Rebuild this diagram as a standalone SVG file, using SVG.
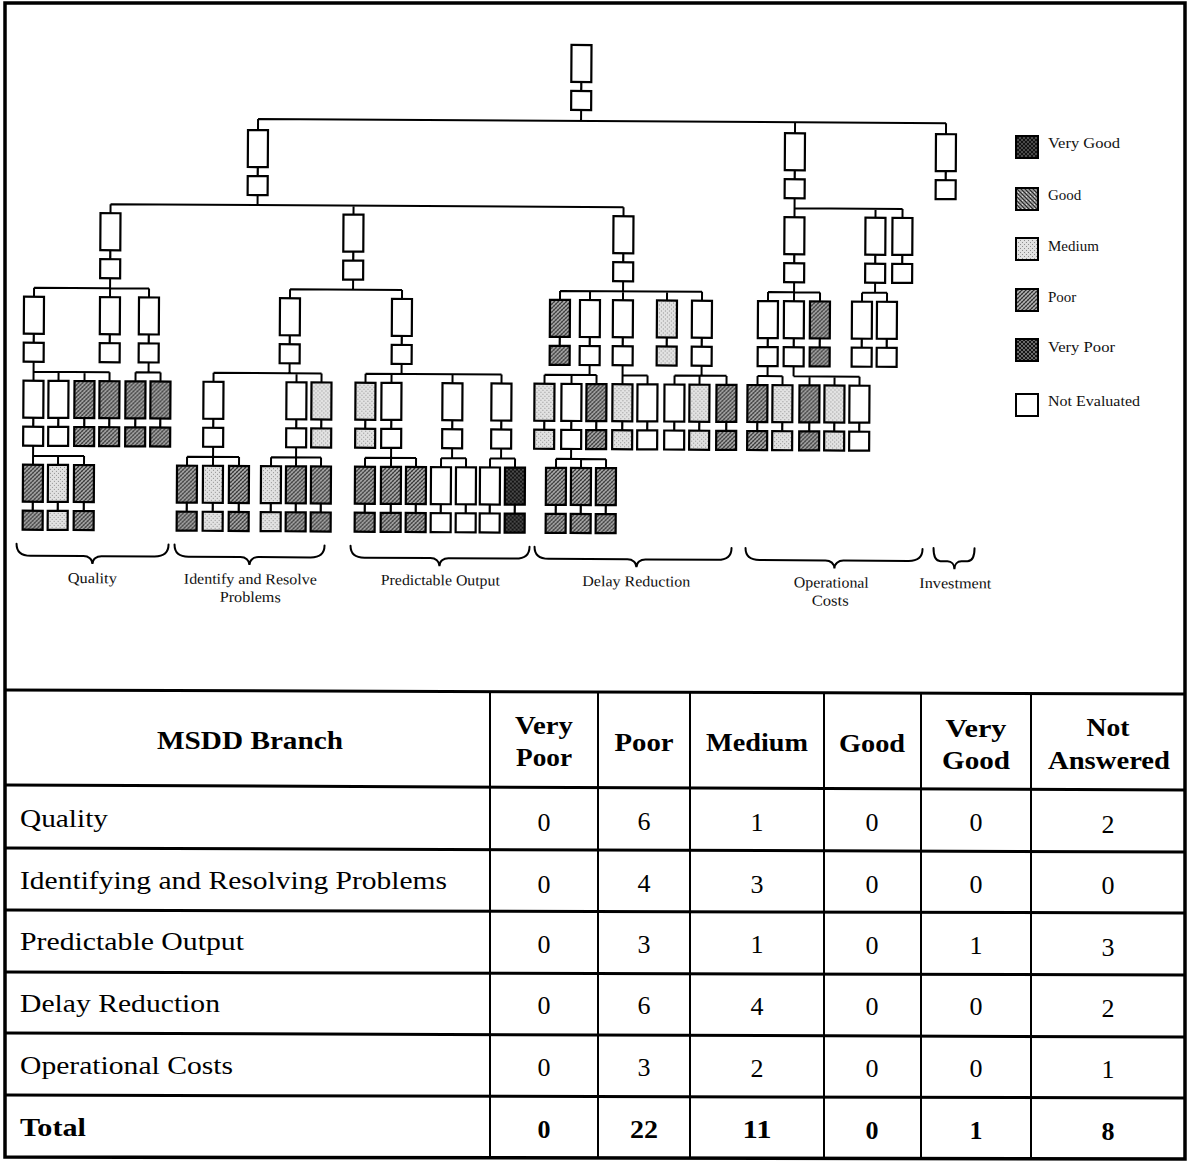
<svg xmlns="http://www.w3.org/2000/svg" xmlns:xlink="http://www.w3.org/1999/xlink" width="1187" height="1161" viewBox="0 0 1187 1161">
  <defs>
    <!-- rating fills -->
    <pattern id="pVGood" width="4" height="4" patternUnits="userSpaceOnUse">
      <rect width="4" height="4" fill="#4a4a4a"/>
      <path d="M-1,1 l2,-2 M0,4 l4,-4 M3,5 l2,-2 M-1,3 l2,2 M0,0 l4,4 M3,-1 l2,2" stroke="#0c0c0c" stroke-width="0.9"/>
    </pattern>
    <pattern id="pGood" width="4" height="4" patternUnits="userSpaceOnUse">
      <rect width="4" height="4" fill="#a0a0a0"/>
      <path d="M-1,3 l2,2 M0,0 l4,4 M3,-1 l2,2" stroke="#262626" stroke-width="1.2"/>
      <rect x="2" y="0" width="1" height="1" fill="#e0e0e0"/>
    </pattern>
    <pattern id="pMedium" width="4" height="4" patternUnits="userSpaceOnUse">
      <rect width="4" height="4" fill="#e2e2e2"/>
      <rect x="0" y="0" width="1" height="1" fill="#8e8e8e"/>
      <rect x="2" y="2" width="1" height="1" fill="#8e8e8e"/>
    </pattern>
    <pattern id="pPoor" width="4" height="4" patternUnits="userSpaceOnUse">
      <rect width="4" height="4" fill="#b4b4b4"/>
      <path d="M-1,1 l2,-2 M0,4 l4,-4 M3,5 l2,-2" stroke="#2a2a2a" stroke-width="1.1"/>
      <path d="M-1,3 l2,2 M0,0 l4,4 M3,-1 l2,2" stroke="#555" stroke-width="0.6"/>
    </pattern>
    <pattern id="pVPoor" width="4" height="4" patternUnits="userSpaceOnUse">
      <rect width="4" height="4" fill="#6a6a6a"/>
      <path d="M-1,1 l2,-2 M0,4 l4,-4 M3,5 l2,-2 M-1,3 l2,2 M0,0 l4,4 M3,-1 l2,2" stroke="#141414" stroke-width="1"/>
    </pattern>
    <!-- one tree node: requirement box over its design-parameter box -->
    <g id="nd" stroke="#000" stroke-width="2.2">
      <rect x="-10" y="0" width="20" height="37"/>
      <line x1="0" y1="37" x2="0" y2="46"/>
      <rect x="-10" y="46" width="20" height="19"/>
    </g>
  </defs>
  <style>
    .ne { fill: #fff; }
    .poor { fill: url(#pPoor); }
    .med { fill: url(#pMedium); }
    .vgood { fill: url(#pVGood); }
    .good { fill: url(#pGood); }
    .vpoor { fill: url(#pVPoor); }
    .conn { fill: none; stroke: #000; stroke-width: 2; }
    .brace { fill: none; stroke: #000; stroke-width: 2; stroke-linecap: round; }
    .lbl { font-family: "Liberation Serif", "Times New Roman", serif; font-size: 15px; fill: #111; text-anchor: middle; }
    .leg { font-family: "Liberation Serif", "Times New Roman", serif; font-size: 15px; fill: #111; }
    .lbox { stroke: #000; stroke-width: 2; }
    .tl { stroke: #000; stroke-width: 3; fill: none; }
    .tv { stroke: #000; stroke-width: 2; }
    .th { font-family: "Liberation Serif", "Times New Roman", serif; font-size: 26px; font-weight: bold; fill: #000; text-anchor: middle; }
    .tr { font-family: "Liberation Serif", "Times New Roman", serif; font-size: 26px; fill: #000; }
    .num { font-family: "Liberation Serif", "Times New Roman", serif; font-size: 26px; fill: #000; text-anchor: middle; }
    .bold { font-weight: bold; }
  </style>

  <rect width="1187" height="1161" fill="#fff"/>

  <!-- outer frame -->
  <path d="M5,3 H1185 V1159 L5,1157 Z" fill="none" stroke="#000" stroke-width="3.5"/>

  <!-- MSDD tree, slightly rotated as on the printed page -->
  <g id="tree" transform="rotate(0.34 580 300)">
    <g id="connectors" class="conn">
      <path d="M580,110V121 M257,121H945 M257,121V132 M794,121V132 M945,121V132"/>
      <path d="M257,197V207 M110,207H623 M110,207V216 M353,207V216 M623,207V216"/>
      <path d="M794,197V216 M794,207H902 M875,207V216 M902,207V216"/>
      <path d="M110,281V300 M34,291H149 M34,291V300 M149,291V300"/>
      <path d="M353,281V291 M290,291H402 M290,291V300 M402,291V300"/>
      <path d="M623,281V300 M560,291H702 M560,291V300 M590,291V300 M667,291V300 M702,291V300"/>
      <path d="M794,281V300 M768,291H820 M768,291V300 M820,291V300"/>
      <path d="M875,281V291 M862,291H887 M862,291V300 M887,291V300"/>
      <path d="M34,365V384 M34,375H110 M59,375V384 M85,375V384 M110,375V384"/>
      <path d="M149,365V375 M136,375H161 M136,375V384 M161,375V384"/>
      <path d="M290,365V375 M214,375H322 M214,375V384 M297,375V384 M322,375V384"/>
      <path d="M402,365V375 M366,375H502 M366,375V384 M392,375V384 M453,375V384 M502,375V384"/>
      <path d="M590,365V375 M545,375H597 M545,375V384 M572,375V384 M597,375V384"/>
      <path d="M623,365V384 M623,375H648 M648,375V384"/>
      <path d="M702,365V375 M675,375H727 M675,375V384 M700,375V384 M727,375V384"/>
      <path d="M768,365V375 M758,375H783 M758,375V384 M783,375V384"/>
      <path d="M794,365V375 M794,375H860 M810,375V384 M835,375V384 M860,375V384"/>
      <path d="M34,449V468 M34,459H85 M59,459V468 M85,459V468"/>
      <path d="M214,449V468 M188,459H240 M188,459V468 M240,459V468"/>
      <path d="M297,449V468 M272,459H322 M272,459V468 M322,459V468"/>
      <path d="M392,449V468 M366,459H417 M366,459V468 M417,459V468"/>
      <path d="M453,449V459 M442,459H467 M442,459V468 M467,459V468"/>
      <path d="M502,449V459 M491,459H516 M491,459V468 M516,459V468"/>
      <path d="M572,449V459 M557,459H607 M557,459V468 M582,459V468 M607,459V468"/>
    </g>

    <!-- level 1 -->
    <g id="n-root" class="ne"><use xlink:href="#nd" x="580" y="45"/></g>
    <!-- level 2 -->
    <g id="n-a" class="ne"><use xlink:href="#nd" x="257" y="132"/></g>
    <g id="n-oc" class="ne"><use xlink:href="#nd" x="794" y="132"/></g>
    <g id="n-inv" class="ne"><use xlink:href="#nd" x="945" y="132"/></g>
    <!-- level 3 -->
    <g id="n-q" class="ne"><use xlink:href="#nd" x="110" y="216"/></g>
    <g id="n-ip" class="ne"><use xlink:href="#nd" x="353" y="216"/></g>
    <g id="n-d" class="ne"><use xlink:href="#nd" x="623" y="216"/></g>
    <g id="n-o" class="ne"><use xlink:href="#nd" x="794" y="216"/></g>
    <g id="n-o2" class="ne"><use xlink:href="#nd" x="875" y="216"/></g>
    <g id="n-o3" class="ne"><use xlink:href="#nd" x="902" y="216"/></g>
    <!-- level 4 -->
    <g id="n-q1" class="ne"><use xlink:href="#nd" x="34" y="300"/></g>
    <g id="n-q2" class="ne"><use xlink:href="#nd" x="110" y="300"/></g>
    <g id="n-q3" class="ne"><use xlink:href="#nd" x="149" y="300"/></g>
    <g id="n-i" class="ne"><use xlink:href="#nd" x="290" y="300"/></g>
    <g id="n-p" class="ne"><use xlink:href="#nd" x="402" y="300"/></g>
    <g id="n-d1" class="poor"><use xlink:href="#nd" x="560" y="300"/></g>
    <g id="n-d2" class="ne"><use xlink:href="#nd" x="590" y="300"/></g>
    <g id="n-d3" class="ne"><use xlink:href="#nd" x="623" y="300"/></g>
    <g id="n-d4" class="med"><use xlink:href="#nd" x="667" y="300"/></g>
    <g id="n-d5" class="ne"><use xlink:href="#nd" x="702" y="300"/></g>
    <g id="n-o1" class="ne"><use xlink:href="#nd" x="768" y="300"/></g>
    <g id="n-o2b" class="ne"><use xlink:href="#nd" x="794" y="300"/></g>
    <g id="n-o3b" class="poor"><use xlink:href="#nd" x="820" y="300"/></g>
    <g id="n-o4" class="ne"><use xlink:href="#nd" x="862" y="300"/></g>
    <g id="n-o5" class="ne"><use xlink:href="#nd" x="887" y="300"/></g>
    <!-- level 5 -->
    <g id="n-q11" class="ne"><use xlink:href="#nd" x="34" y="384"/></g>
    <g id="n-q12" class="ne"><use xlink:href="#nd" x="59" y="384"/></g>
    <g id="n-q13" class="poor"><use xlink:href="#nd" x="85" y="384"/></g>
    <g id="n-q14" class="poor"><use xlink:href="#nd" x="110" y="384"/></g>
    <g id="n-q31" class="poor"><use xlink:href="#nd" x="136" y="384"/></g>
    <g id="n-q32" class="poor"><use xlink:href="#nd" x="161" y="384"/></g>
    <g id="n-i1" class="ne"><use xlink:href="#nd" x="214" y="384"/></g>
    <g id="n-i2" class="ne"><use xlink:href="#nd" x="297" y="384"/></g>
    <g id="n-i3" class="med"><use xlink:href="#nd" x="322" y="384"/></g>
    <g id="n-p1" class="med"><use xlink:href="#nd" x="366" y="384"/></g>
    <g id="n-p2" class="ne"><use xlink:href="#nd" x="392" y="384"/></g>
    <g id="n-p3" class="ne"><use xlink:href="#nd" x="453" y="384"/></g>
    <g id="n-p4" class="ne"><use xlink:href="#nd" x="502" y="384"/></g>
    <g id="n-d21" class="med"><use xlink:href="#nd" x="545" y="384"/></g>
    <g id="n-d22" class="ne"><use xlink:href="#nd" x="572" y="384"/></g>
    <g id="n-d23" class="poor"><use xlink:href="#nd" x="597" y="384"/></g>
    <g id="n-d31" class="med"><use xlink:href="#nd" x="623" y="384"/></g>
    <g id="n-d32" class="ne"><use xlink:href="#nd" x="648" y="384"/></g>
    <g id="n-d51" class="ne"><use xlink:href="#nd" x="675" y="384"/></g>
    <g id="n-d52" class="med"><use xlink:href="#nd" x="700" y="384"/></g>
    <g id="n-d53" class="poor"><use xlink:href="#nd" x="727" y="384"/></g>
    <g id="n-o11" class="poor"><use xlink:href="#nd" x="758" y="384"/></g>
    <g id="n-o12" class="med"><use xlink:href="#nd" x="783" y="384"/></g>
    <g id="n-o21" class="poor"><use xlink:href="#nd" x="810" y="384"/></g>
    <g id="n-o22" class="med"><use xlink:href="#nd" x="835" y="384"/></g>
    <g id="n-o23" class="ne"><use xlink:href="#nd" x="860" y="384"/></g>
    <!-- level 6 -->
    <g id="n-q111" class="poor"><use xlink:href="#nd" x="34" y="468"/></g>
    <g id="n-q112" class="med"><use xlink:href="#nd" x="59" y="468"/></g>
    <g id="n-q113" class="poor"><use xlink:href="#nd" x="85" y="468"/></g>
    <g id="n-i11" class="poor"><use xlink:href="#nd" x="188" y="468"/></g>
    <g id="n-i12" class="med"><use xlink:href="#nd" x="214" y="468"/></g>
    <g id="n-i13" class="poor"><use xlink:href="#nd" x="240" y="468"/></g>
    <g id="n-i21" class="med"><use xlink:href="#nd" x="272" y="468"/></g>
    <g id="n-i22" class="poor"><use xlink:href="#nd" x="297" y="468"/></g>
    <g id="n-i23" class="poor"><use xlink:href="#nd" x="322" y="468"/></g>
    <g id="n-p21" class="poor"><use xlink:href="#nd" x="366" y="468"/></g>
    <g id="n-p22" class="poor"><use xlink:href="#nd" x="392" y="468"/></g>
    <g id="n-p23" class="poor"><use xlink:href="#nd" x="417" y="468"/></g>
    <g id="n-p31" class="ne"><use xlink:href="#nd" x="442" y="468"/></g>
    <g id="n-p32" class="ne"><use xlink:href="#nd" x="467" y="468"/></g>
    <g id="n-p41" class="ne"><use xlink:href="#nd" x="491" y="468"/></g>
    <g id="n-p42" class="vgood"><use xlink:href="#nd" x="516" y="468"/></g>
    <g id="n-d221" class="poor"><use xlink:href="#nd" x="557" y="468"/></g>
    <g id="n-d222" class="poor"><use xlink:href="#nd" x="582" y="468"/></g>
    <g id="n-d223" class="poor"><use xlink:href="#nd" x="607" y="468"/></g>

    <!-- branch braces and names -->
    <g id="braces" class="brace">
      <path d="M18,547 C18,555 23,559 32,559 H85 C90,559 94,562 94,567 C94,562 98,559 103,559 H156 C165,559 170,555 170,547"/>
      <path d="M176,547 C176,555 181,559 190,559 H242 C247,559 251,562 251,567 C251,562 255,559 260,559 H312 C321,559 326,555 326,547"/>
      <path d="M352,547 C352,555 357,559 366,559 H432 C437,559 441,562 441,567 C441,562 445,559 450,559 H517 C526,559 531,555 531,547"/>
      <path d="M536,547 C536,555 541,559 550,559 H629 C634,559 638,562 638,567 C638,562 642,559 647,559 H719 C728,559 733,555 733,547"/>
      <path d="M747,547 C747,555 752,559 761,559 H827 C832,559 836,562 836,567 C836,562 840,559 845,559 H910 C919,559 924,555 924,547"/>
      <path d="M935,546 C935,554 937,559 942,559 H949 C953,559 956,562 956,567 C956,562 959,559 963,559 H969 C974,559 976,554 976,546"/>
    </g>
    <g id="branch-names" class="lbl">
      <text x="94" y="586" textLength="49" lengthAdjust="spacingAndGlyphs">Quality</text>
      <text x="252" y="586" textLength="133" lengthAdjust="spacingAndGlyphs">Identify and Resolve</text>
      <text x="252" y="604" textLength="61" lengthAdjust="spacingAndGlyphs">Problems</text>
      <text x="442" y="586" textLength="119" lengthAdjust="spacingAndGlyphs">Predictable Output</text>
      <text x="638" y="586" textLength="108" lengthAdjust="spacingAndGlyphs">Delay Reduction</text>
      <text x="833" y="586" textLength="75" lengthAdjust="spacingAndGlyphs">Operational</text>
      <text x="832" y="604" textLength="37" lengthAdjust="spacingAndGlyphs">Costs</text>
      <text x="957" y="586" textLength="72" lengthAdjust="spacingAndGlyphs">Investment</text>
    </g>
  </g>

  <!-- legend -->
  <g id="legend">
    <rect class="lbox vgood" x="1016" y="136" width="22" height="22"/>
    <text class="leg" x="1048" y="148" textLength="72" lengthAdjust="spacingAndGlyphs">Very Good</text>
    <rect class="lbox good" x="1016" y="188" width="22" height="22"/>
    <text class="leg" x="1048" y="200">Good</text>
    <rect class="lbox med" x="1016" y="238" width="22" height="22"/>
    <text class="leg" x="1048" y="251">Medium</text>
    <rect class="lbox poor" x="1016" y="289" width="22" height="22"/>
    <text class="leg" x="1048" y="302">Poor</text>
    <rect class="lbox vpoor" x="1016" y="339" width="22" height="22"/>
    <text class="leg" x="1048" y="352" textLength="67" lengthAdjust="spacingAndGlyphs">Very Poor</text>
    <rect class="lbox ne" x="1016" y="394" width="22" height="22"/>
    <text class="leg" x="1048" y="406" textLength="92" lengthAdjust="spacingAndGlyphs">Not Evaluated</text>
  </g>

  <!-- summary table -->
  <g id="table">
    <g id="table-grid">
      <line class="tl" x1="5" y1="690" x2="1185" y2="694" stroke-width="3.5"/>
      <line class="tl" x1="5" y1="785" x2="1185" y2="790" stroke-width="3.5"/>
      <line class="tl" x1="5" y1="848" x2="1185" y2="852"/>
      <line class="tl" x1="5" y1="910" x2="1185" y2="913"/>
      <line class="tl" x1="5" y1="972" x2="1185" y2="975"/>
      <line class="tl" x1="5" y1="1033" x2="1185" y2="1037"/>
      <line class="tl" x1="5" y1="1095" x2="1185" y2="1098"/>
      <line class="tv" x1="490" y1="692" x2="490" y2="1158"/>
      <line class="tv" x1="598" y1="692" x2="598" y2="1158"/>
      <line class="tv" x1="690" y1="692" x2="690" y2="1158"/>
      <line class="tv" x1="824" y1="692" x2="824" y2="1158"/>
      <line class="tv" x1="921" y1="693" x2="921" y2="1158"/>
      <line class="tv" x1="1031" y1="693" x2="1031" y2="1158"/>
    </g>
    <g id="table-head" class="th">
      <text x="250" y="749" textLength="186" lengthAdjust="spacingAndGlyphs">MSDD Branch</text>
      <text x="544" y="734" textLength="58" lengthAdjust="spacingAndGlyphs">Very</text>
      <text x="544" y="766" textLength="56" lengthAdjust="spacingAndGlyphs">Poor</text>
      <text x="644" y="751" textLength="59" lengthAdjust="spacingAndGlyphs">Poor</text>
      <text x="757" y="751" textLength="102" lengthAdjust="spacingAndGlyphs">Medium</text>
      <text x="872" y="752" textLength="66" lengthAdjust="spacingAndGlyphs">Good</text>
      <text x="976" y="737" textLength="61" lengthAdjust="spacingAndGlyphs">Very</text>
      <text x="976" y="769" textLength="68" lengthAdjust="spacingAndGlyphs">Good</text>
      <text x="1108" y="736" textLength="43" lengthAdjust="spacingAndGlyphs">Not</text>
      <text x="1109" y="769" textLength="122" lengthAdjust="spacingAndGlyphs">Answered</text>
    </g>
    <g id="table-rows" class="tr">
      <text x="20" y="827" textLength="88" lengthAdjust="spacingAndGlyphs">Quality</text>
      <text x="20" y="889" textLength="427" lengthAdjust="spacingAndGlyphs">Identifying and Resolving Problems</text>
      <text x="20" y="950" textLength="224" lengthAdjust="spacingAndGlyphs">Predictable Output</text>
      <text x="20" y="1012" textLength="200" lengthAdjust="spacingAndGlyphs">Delay Reduction</text>
      <text x="20" y="1074" textLength="213" lengthAdjust="spacingAndGlyphs">Operational Costs</text>
      <text x="20" y="1136" class="bold" textLength="66" lengthAdjust="spacingAndGlyphs">Total</text>
    </g>
    <g id="table-values" class="num">
      <text x="544" y="831">0</text><text x="644" y="830">6</text><text x="757" y="831">1</text><text x="872" y="831">0</text><text x="976" y="831">0</text><text x="1108" y="833">2</text>
      <text x="544" y="893">0</text><text x="644" y="892">4</text><text x="757" y="893">3</text><text x="872" y="893">0</text><text x="976" y="893">0</text><text x="1108" y="894">0</text>
      <text x="544" y="953">0</text><text x="644" y="953">3</text><text x="757" y="953">1</text><text x="872" y="954">0</text><text x="976" y="954">1</text><text x="1108" y="956">3</text>
      <text x="544" y="1014">0</text><text x="644" y="1014">6</text><text x="757" y="1015">4</text><text x="872" y="1015">0</text><text x="976" y="1015">0</text><text x="1108" y="1017">2</text>
      <text x="544" y="1076">0</text><text x="644" y="1076">3</text><text x="757" y="1077">2</text><text x="872" y="1077">0</text><text x="976" y="1077">0</text><text x="1108" y="1078">1</text>
      <g class="bold"><text x="544" y="1138">0</text><text x="644" y="1138" textLength="28" lengthAdjust="spacingAndGlyphs">22</text><text x="757" y="1138" textLength="29" lengthAdjust="spacingAndGlyphs">11</text><text x="872" y="1139">0</text><text x="976" y="1139">1</text><text x="1108" y="1140">8</text></g>
    </g>
  </g>
</svg>
